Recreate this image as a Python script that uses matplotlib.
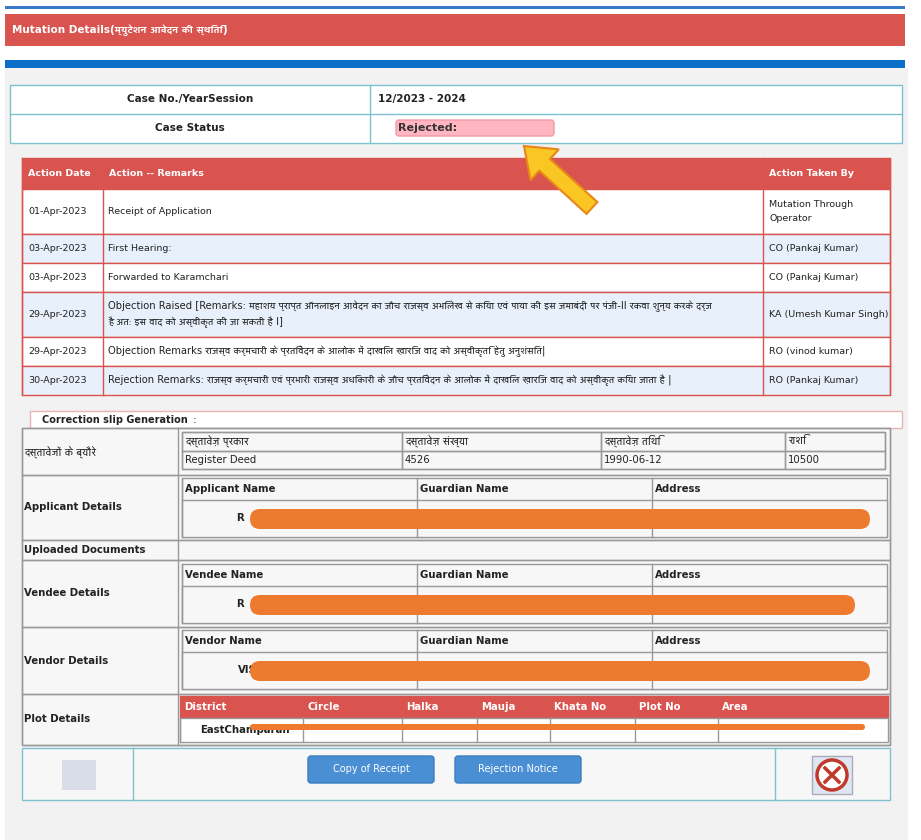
import matplotlib
matplotlib.use("Agg")
import matplotlib.pyplot as plt
from matplotlib.patches import Rectangle, FancyBboxPatch, FancyArrow, Circle
from matplotlib import font_manager
from matplotlib.ft2font import FT2Font

deva = None
for f in font_manager.fontManager.ttflist:
    try:
        if 0x0915 in FT2Font(f.fname).get_charmap():
            deva = f.name
            break
    except Exception:
        pass
fams = ["DejaVu Sans"] + ([deva] if deva else [])
plt.rcParams["font.family"] = fams
HSCALE = 1.06 if deva else 0.62

title = "Mutation Details(म्युटेशन आवेदन की स्थिति)"
case_labels = ["Case No./YearSession", "Case Status"]
case_values = ["12/2023 - 2024", "Rejected:"]
action_headers = ["Action Date", "Action -- Remarks", "Action Taken By"]
action_dates = ["01-Apr-2023", "03-Apr-2023", "03-Apr-2023", "29-Apr-2023", "29-Apr-2023", "30-Apr-2023"]
action_remarks = [
    "Receipt of Application",
    "First Hearing:",
    "Forwarded to Karamchari",
    "Objection Raised [Remarks: महाशय प्राप्त ऑनलाइन आवेदन का जाँच राजस्व अभिलेख से किया एवं पाया की इस जमाबंदी पर पंजी-II रकवा शुन्य करके दर्ज\nहै अतः इस वाद को अस्वीकृत की जा सकती है I]",
    "Objection Remarks राजस्व कर्मचारी के प्रतिवेदन के आलोक में दाखिल ख़ारिज वाद को अस्वीकृति हेतु अनुशंसित|",
    "Rejection Remarks: राजस्व कर्मचारी एवं प्रभारी राजस्व अधिकारी के जाँच प्रतिवेदन के आलोक में दाखिल ख़ारिज वाद को अस्वीकृत किया जाता है |",
]
action_by = ["Mutation Through\nOperator", "CO (Pankaj Kumar)", "CO (Pankaj Kumar)", "KA (Umesh Kumar Singh)", "RO (vinod kumar)", "RO (Pankaj Kumar)"]
detail_labels = ["दस्तावेजों के ब्यौरे", "Applicant Details", "Uploaded Documents", "Vendee Details", "Vendor Details", "Plot Details"]
doc_headers = ["दस्तावेज़ प्रकार", "दस्तावेज़ संख्या", "दस्तावेज़ तिथि", "राशि"]
doc_values = ["Register Deed", "4526", "1990-06-12", "10500"]
applicant_headers = ["Applicant Name", "Guardian Name", "Address"]
vendee_headers = ["Vendee Name", "Guardian Name", "Address"]
vendor_headers = ["Vendor Name", "Guardian Name", "Address"]
name_initials = ["R", "R", "VIS"]
plot_headers = ["District", "Circle", "Halka", "Mauja", "Khata No", "Plot No", "Area"]
plot_values = ["EastChamparan"]
buttons = ["Copy of Receipt", "Rejection Notice"]

def has_deva(s):
    return any(0x0900 <= ord(c) <= 0x097F for c in s)

RED = "#d9534f"
BLUE = "#0d6ec7"
TEAL = "#7cc3cf"
fig = plt.figure(figsize=(9.21, 8.4), dpi=100)
ax = fig.add_axes([0, 0, 1, 1])
ax.set_xlim(0, 921); ax.set_ylim(840, 0); ax.axis("off")

def rect(x0, y0, x1, y1, fc="none", ec="none", lw=1, z=1):
    ax.add_patch(Rectangle((x0, y0), x1 - x0, y1 - y0, facecolor=fc, edgecolor=ec, lw=lw, zorder=z))

def txt(x, y, s, size=7.5, **kw):
    kw.setdefault("va", "center")
    if has_deva(s) and not s.startswith("Mutation"):
        size = size * HSCALE
    ax.text(x, y, s, fontsize=size, zorder=5, **kw)

rect(5, 68, 908, 840, fc="#f2f2f2")
rect(5, 6, 905, 9, fc="#3a78c9")
rect(5, 14, 905, 46, fc=RED)
txt(12, 30, title, 7.5, color="white", fontweight="bold")
rect(5, 60, 905, 68, fc=BLUE)

rect(10, 85, 902, 143, fc="white", ec=TEAL)
ax.plot([10, 902], [114, 114], color=TEAL, lw=1, zorder=2)
ax.plot([370, 370], [85, 143], color=TEAL, lw=1, zorder=2)
for i, (l, v) in enumerate(zip(case_labels, case_values)):
    y = 99 + 29 * i
    txt(190, y, l, 7.5, ha="center", fontweight="bold", color="#222")
    if i == 1:
        ax.add_patch(FancyBboxPatch((396, 120), 158, 16, boxstyle="round,pad=0,rounding_size=3", fc="#ffb6c1", ec="#f29aa9", zorder=3))
        txt(398, y, v, 8, fontweight="bold", color="#333")
    else:
        txt(378, y, v, 7.5, fontweight="bold", color="#222")

cols = [22, 103, 763, 890]
rows = [158, 189, 234, 263, 292, 337, 366, 395]
rect(22, 158, 890, 189, fc=RED, ec=RED)
for j, h in enumerate(action_headers):
    txt(cols[j] + 6, 174, h, 6.8, color="white", fontweight="bold")
for i in range(len(action_dates)):
    y0, y1 = rows[i + 1], rows[i + 2]
    rect(22, y0, 890, y1, fc="white" if i % 2 == 0 else "#e8f0fb", ec=RED)
    yc = (y0 + y1) / 2
    txt(28, yc, action_dates[i], 6.8, color="#222")
    txt(108, yc, action_remarks[i], 6.8, color="#222", linespacing=1.5)
    txt(769, yc, action_by[i], 6.8, color="#222", linespacing=1.7)
for c in cols:
    ax.plot([c, c], [158, 395], color=RED, lw=1, zorder=2)

ax.add_patch(FancyArrow(592, 208, -68, -62, width=16, head_width=42, head_length=28,
                        fc="#f9c623", ec="#e8861a", lw=1.5, zorder=4, length_includes_head=True))

rect(30, 411, 902, 428, fc="white", ec="#e8b4b4")
txt(42, 420, "Correction slip Generation", 7, fontweight="bold", color="#222")
txt(193, 420, ":", 7.5, color="#222")

drows = [428, 475, 540, 560, 627, 694, 745]
rect(22, 428, 890, 745, fc="#f7f7f7", ec="#999")
for i, l in enumerate(detail_labels):
    rect(22, drows[i], 890, drows[i + 1], ec="#999")
    txt(24, (drows[i] + drows[i + 1]) / 2, l, 7.3, color="#222", fontweight="normal" if i == 0 else "bold")
ax.plot([178, 178], [428, 745], color="#999", lw=1, zorder=2)

dcols = [182, 402, 601, 785, 885]
rect(182, 432, 885, 469, fc="#f7f7f7", ec="#999")
for j in range(4):
    rect(dcols[j], 432, dcols[j + 1], 451, ec="#999")
    rect(dcols[j], 451, dcols[j + 1], 469, ec="#999")
    txt(dcols[j] + 3, 441, doc_headers[j], 7.3, color="#222")
    txt(dcols[j] + 3, 460, doc_values[j], 7.3, color="#222")

pcols = [182, 417, 652, 887]
for k, (y0, hdrs) in enumerate(zip([478, 564, 630], [applicant_headers, vendee_headers, vendor_headers])):
    rect(182, y0, 887, y0 + 59, fc="#f7f7f7", ec="#999")
    rect(182, y0 + 22, 887, y0 + 59, fc="#f7f7f7", ec="#999")
    for j in range(3):
        ax.plot([pcols[j], pcols[j]], [y0, y0 + 59], color="#999", lw=1, zorder=2)
        txt(pcols[j] + 3, y0 + 11, hdrs[j], 7.3, fontweight="bold", color="#222")
    txt(236 if k < 2 else 238, y0 + 40, name_initials[k], 7.3, fontweight="bold", color="#222")
    ax.add_patch(FancyBboxPatch((250, y0 + 31), 620 - (15 if k == 1 else 0), 20,
                                boxstyle="round,pad=0,rounding_size=10", fc="#ee7a30", ec="none", zorder=6))

pl = [180, 303, 402, 477, 550, 635, 718, 888]
rect(180, 696, 888, 718, fc=RED, ec=RED)
rect(180, 718, 888, 742, fc="white", ec="#999")
for j, h in enumerate(plot_headers):
    txt(pl[j] + 4, 707, h, 7.3, color="white", fontweight="bold")
    ax.plot([pl[j], pl[j]], [718, 742], color="#999", lw=1, zorder=2)
txt(200, 730, plot_values[0], 7.3, fontweight="bold", color="#222")
ax.add_patch(FancyBboxPatch((250, 724), 615, 6, boxstyle="round,pad=0,rounding_size=3", fc="#ee7a30", ec="none", zorder=6))

rect(22, 748, 890, 800, fc="#f7f7f7", ec=TEAL)
for c in [133, 775]:
    ax.plot([c, c], [748, 800], color=TEAL, lw=1, zorder=2)
for j, b in enumerate(buttons):
    x0 = 308 + 147 * j
    ax.add_patch(FancyBboxPatch((x0, 756), 126, 27, boxstyle="round,pad=0,rounding_size=3", fc="#4a8fd4", ec="#3b7dc0", zorder=3))
    txt(x0 + 63, 769.5, b, 7, ha="center", color="white")
rect(62, 760, 96, 790, fc="#d9dde8", z=3)
rect(812, 756, 852, 794, fc="#dde7f2", ec="#aab", z=3)
ax.add_patch(Circle((832, 775), 15, fc="white", ec="#c0392b", lw=2.5, zorder=4))
ax.plot([825, 839], [768, 782], color="#c0392b", lw=2.5, zorder=5)
ax.plot([825, 839], [782, 768], color="#c0392b", lw=2.5, zorder=5)

fig.savefig("out.png", dpi=100)
